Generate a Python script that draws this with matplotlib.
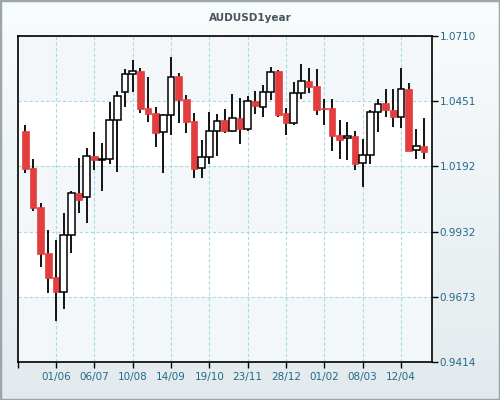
import numpy as np
import matplotlib
matplotlib.use('Agg')
import matplotlib.pyplot as plt
from matplotlib.patches import Rectangle

# weekly AUDUSD candles, May 2012 - May 2013
opens = [1.0332, 1.0186, 1.0031, 0.9849, 0.9752, 0.9694, 0.9918, 1.0086, 1.0070, 1.0233,
         1.0219, 1.0220, 1.0375, 1.0486, 1.0559, 1.0572, 1.0424, 1.0404, 1.0327, 1.0395,
         1.0551, 1.0460, 1.0372, 1.0184, 1.0228, 1.0331, 1.0377, 1.0334, 1.0384, 1.0342,
         1.0452, 1.0429, 1.0486, 1.0571, 1.0404, 1.0365, 1.0482, 1.0531, 1.0511, 1.0424,
         1.0425, 1.0316, 1.0303, 1.0312, 1.0204, 1.0237, 1.0407, 1.0444, 1.0415, 1.0387,
         1.0499, 1.0256, 1.0273]
highs = [1.0356, 1.0221, 1.0045, 0.9939, 0.9899, 1.0005, 1.0095, 1.0224, 1.0264, 1.0327,
         1.0283, 1.0446, 1.0491, 1.0578, 1.0613, 1.0582, 1.0546, 1.0427, 1.0399, 1.0628,
         1.0562, 1.0475, 1.0403, 1.0297, 1.0409, 1.0399, 1.0419, 1.0479, 1.0462, 1.0471,
         1.0491, 1.0515, 1.0586, 1.0573, 1.0423, 1.0528, 1.0598, 1.0582, 1.0578, 1.0460,
         1.0460, 1.0376, 1.0367, 1.0332, 1.0301, 1.0416, 1.0460, 1.0499, 1.0499, 1.0582,
         1.0522, 1.0340, 1.0383]
lows = [1.0167, 1.0016, 0.9793, 0.9687, 0.9578, 0.9624, 0.9846, 1.0005, 0.9965, 1.0177,
        1.0095, 1.0200, 1.0171, 1.0429, 1.0489, 1.0405, 1.0369, 1.0270, 1.0164, 1.0316,
        1.0363, 1.0326, 1.0147, 1.0147, 1.0200, 1.0233, 1.0323, 1.0330, 1.0281, 1.0334,
        1.0399, 1.0389, 1.0456, 1.0389, 1.0316, 1.0356, 1.0458, 1.0482, 1.0396, 1.0356,
        1.0253, 1.0221, 1.0217, 1.0177, 1.0111, 1.0200, 1.0330, 1.0389, 1.0349, 1.0345,
        1.0252, 1.0220, 1.0221]
closes = [1.0182, 1.0027, 0.9842, 0.9749, 0.9693, 0.9918, 1.0085, 1.0059, 1.0231, 1.0218,
          1.0220, 1.0375, 1.0470, 1.0558, 1.0571, 1.0421, 1.0401, 1.0326, 1.0395, 1.0548,
          1.0457, 1.0369, 1.0182, 1.0228, 1.0331, 1.0371, 1.0332, 1.0384, 1.0342, 1.0452,
          1.0433, 1.0486, 1.0566, 1.0396, 1.0365, 1.0482, 1.0531, 1.0508, 1.0417, 1.0421,
          1.0314, 1.0298, 1.0312, 1.0201, 1.0237, 1.0407, 1.0441, 1.0415, 1.0387, 1.0499,
          1.0254, 1.0273, 1.0250]

tick_idx = [4, 9, 14, 19, 24, 29, 34, 39, 44, 49]
tick_labels = ['01/06', '06/07', '10/08', '14/09', '19/10', '23/11', '28/12', '01/02', '08/03', '12/04']
y_ticks = [0.9414, 0.9673, 0.9932, 1.0192, 1.0451, 1.0710]

LABEL_COLOR = '#1f6a8a'
RED = '#e43d3d'
GRID = '#a9d9e2'
BAND = '#f3f7f9'

fig = plt.figure(figsize=(5, 4), dpi=100)

# background gradient + border
bg = fig.add_axes([0, 0, 1, 1], zorder=-10)
grad = np.linspace(0, 1, 256).reshape(-1, 1)
cmap = matplotlib.colors.LinearSegmentedColormap.from_list('bg', ['#f9fcfd', '#e3eaed'])
bg.imshow(grad, aspect='auto', cmap=cmap, extent=[0, 1, 0, 1])
bg.add_patch(Rectangle((0, 0), 1, 1, fill=False, edgecolor='#9ba6ac', linewidth=2.5,
                       transform=bg.transAxes))
bg.set_xlim(0, 1)
bg.set_ylim(0, 1)
bg.axis('off')

ax = fig.add_axes([18 / 500, 38 / 400, 414 / 500, 326 / 400])
ax.set_facecolor('white')

# alternating bands
for k in range(0, len(y_ticks) - 1):
    if k % 2 == 0:
        ax.axhspan(y_ticks[k], y_ticks[k + 1], color=BAND, zorder=0, linewidth=0)

x = np.arange(len(opens))
width = 0.84
for i in x:
    o, h, l, c = opens[i], highs[i], lows[i], closes[i]
    ax.vlines(i, l, h, color='black', linewidth=1.3, zorder=3)
    bottom = min(o, c)
    height = max(abs(c - o), 0.00025)
    if c < o:
        ax.add_patch(Rectangle((i - width / 2, bottom), width, height, facecolor=RED,
                               edgecolor=RED, linewidth=0.5, zorder=4))
    else:
        ax.add_patch(Rectangle((i - width / 2, bottom), width, height, facecolor='white',
                               edgecolor='black', linewidth=1.1, zorder=4))

ax.set_xlim(-0.96, 53.04)
ax.set_ylim(y_ticks[0], y_ticks[-1])

ax.set_xticks(tick_idx)
ax.set_xticklabels(tick_labels)
ax.set_xticks([-0.96], minor=True)
ax.set_yticks(y_ticks)
ax.set_yticklabels(['%.4f' % v for v in y_ticks])
ax.yaxis.tick_right()

ax.tick_params(axis='both', which='both', direction='out', length=4, width=1,
               color='black', labelcolor=LABEL_COLOR, labelsize=7.5, pad=1.5)
ax.tick_params(axis='x', pad=3)

ax.grid(True, which='major', color=GRID, linestyle=(0, (3, 2)), linewidth=0.8, zorder=1)
ax.set_axisbelow(True)
for sp in ax.spines.values():
    sp.set_color('black')
    sp.set_linewidth(1.2)

fig.text(0.5, 1 - 18 / 400, 'AUDUSD1year', ha='center', va='center', fontsize=7.5,
         fontweight='bold', color='#48545c')

fig.savefig('out.png', dpi=100)
